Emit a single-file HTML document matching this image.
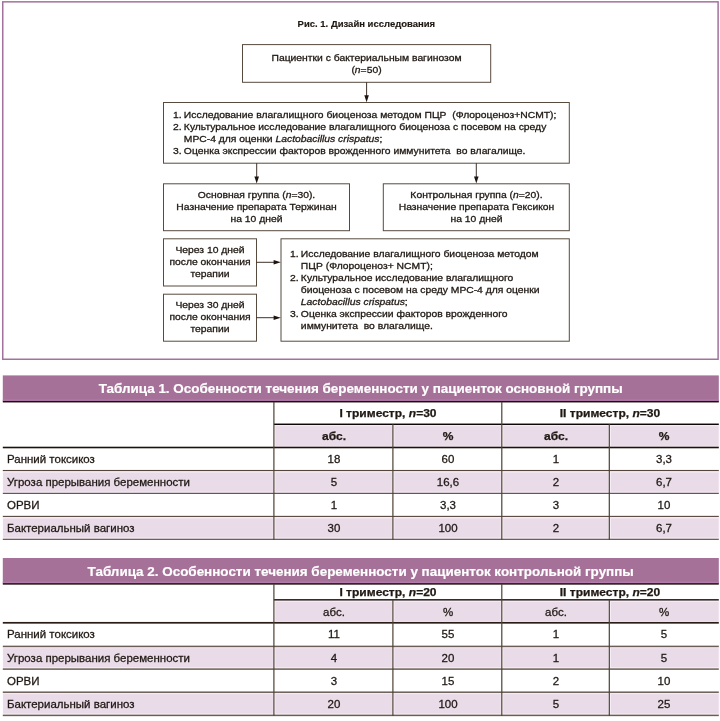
<!DOCTYPE html>
<html lang="ru">
<head>
<meta charset="utf-8">
<title>Рис. 1. Дизайн исследования</title>
<style>
*{margin:0;padding:0;box-sizing:border-box}
html,body{width:720px;height:721px;background:#fff;overflow:hidden}
body{position:relative;font-family:"Liberation Sans",sans-serif;color:#1f1813;-webkit-text-stroke:.3px #1f1813}
.abs{position:absolute}
.fig-title{-webkit-text-stroke:.15px #1f1813;font-weight:bold;font-size:9.5px;line-height:12px;white-space:pre}
.bx{font-size:9.8px;line-height:12px;white-space:pre;transform:scaleX(1.055)}
.nm{display:inline-block;width:10.3px;font-weight:normal}
.bx.l{transform-origin:0 50%}
.bx.c{text-align:center;transform-origin:50% 50%}
i{font-style:italic}
.tt{color:#fff;font-weight:bold;white-space:pre;-webkit-text-stroke:.2px #fff}
.b{font-weight:bold;white-space:pre;-webkit-text-stroke:.25px #1f1813}
.n{white-space:pre;-webkit-text-stroke:.26px #1f1813}
</style>
</head>
<body>
<div class="abs" style="left:0;top:0;width:720px;height:721px;will-change:transform">
<svg class="abs" style="left:0;top:0" width="720" height="370" viewBox="0 0 720 370">
<!-- purple frame -->
<rect x="2.75" y="1.85" width="715.35" height="357.4" fill="none" stroke="#a3729c" stroke-width="1.5"/>
<g fill="none" stroke="#574a3f" stroke-width="1">
<rect x="242.5" y="44.6" width="248.2" height="37.7"/>
<rect x="163.5" y="102.5" width="405.8" height="60.7"/>
<rect x="163.5" y="183.8" width="186" height="46.9"/>
<rect x="383.3" y="183.8" width="186" height="46.9"/>
<rect x="163.5" y="238.8" width="93" height="47.2"/>
<rect x="163.5" y="294.2" width="93" height="47"/>
<rect x="281" y="238.8" width="288.3" height="102.4"/>
</g>
<g stroke="#33271f" stroke-width="0.95" fill="none">
<path d="M366.6 82.3V96"/><path d="M256.7 163.2V177"/><path d="M476.3 163.2V177"/>
<path d="M256.5 262.3H274"/><path d="M256.5 317.7H274"/>
</g>
<g fill="#1d1410">
<path d="M364.3 95.2H368.9L366.6 102.3Z"/>
<path d="M254.4 176.5H259L256.7 183.6Z"/>
<path d="M474 176.5H478.6L476.3 183.6Z"/>
<path d="M273.6 260V264.6L280.8 262.3Z"/>
<path d="M273.6 315.4V320L280.8 317.7Z"/>
</g>
</svg>
<div class="abs fig-title" style="left:297.6px;top:17.9px">Рис. 1. Дизайн исследования</div>
<div class="abs bx c" style="left:241.6px;width:249px;top:51.6px">Пациентки с бактериальным вагинозом
(<i>n</i>=50)</div>
<div class="abs bx l" style="left:172.7px;top:108.5px"><b class="nm">1.</b>Исследование влагалищного биоценоза методом ПЦР  (Флороценоз+NCMT);
<b class="nm">2.</b>Культуральное исследование влагалищного биоценоза с посевом на среду
<b class="nm"></b>МРС-4 для оценки <i>Lactobacillus crispatus</i>;
<b class="nm">3.</b>Оценка экспрессии факторов врожденного иммунитета  во влагалище.</div>
<div class="abs bx c" style="left:163px;width:187px;top:189.3px">Основная группа (<i>n</i>=30).
Назначение препарата Тержинан
на 10 дней</div>
<div class="abs bx c" style="left:383px;width:187px;top:189.3px">Контрольная группа (<i>n</i>=20).
Назначение препарата Гексикон
на 10 дней</div>
<div class="abs bx c" style="left:163px;width:94px;top:244.2px">Через 10 дней
после окончания
терапии</div>
<div class="abs bx c" style="left:163px;width:94px;top:299.2px">Через 30 дней
после окончания
терапии</div>
<div class="abs bx l" style="left:290.4px;top:248.2px"><b class="nm">1.</b>Исследование влагалищного биоценоза методом
<b class="nm"></b>ПЦР (Флороценоз+ NCMT);
<b class="nm">2.</b>Культуральное исследование влагалищного
<b class="nm"></b>биоценоза с посевом на среду МРС-4 для оценки
<b class="nm"></b><i>Lactobacillus crispatus</i>;
<b class="nm">3.</b>Оценка экспрессии факторов врожденного
<b class="nm"></b>иммунитета  во влагалище.</div>

<svg class="abs" style="left:0;top:0" width="720" height="721" viewBox="0 0 720 721">
<rect x="2.8" y="375.4" width="716.0" height="25.9" fill="#a57199"/>
<rect x="2.8" y="399.5" width="716.0" height="1.5" fill="#b47bad"/>
<rect x="2.8" y="400.95" width="716.0" height="1.5" fill="#1c0f0c"/>
<rect x="274.7" y="424.7" width="117.7" height="22.3" fill="#f6ebf5"/>
<rect x="275.5" y="426.3" width="116.2" height="19.4" fill="#e9dbe7"/>
<rect x="393.7" y="424.7" width="107.6" height="22.3" fill="#f6ebf5"/>
<rect x="394.5" y="426.3" width="106.1" height="19.4" fill="#e9dbe7"/>
<rect x="502.6" y="424.7" width="106.2" height="22.3" fill="#f6ebf5"/>
<rect x="503.4" y="426.3" width="104.7" height="19.4" fill="#e9dbe7"/>
<rect x="610.1" y="424.7" width="109.1" height="22.3" fill="#f6ebf5"/>
<rect x="610.9" y="426.3" width="107.6" height="19.4" fill="#e9dbe7"/>
<rect x="2.8" y="471.0" width="270.6" height="21.9" fill="#f6ebf5"/>
<rect x="3.1" y="472.6" width="269.6" height="19.0" fill="#e9dbe7"/>
<rect x="274.7" y="471.0" width="117.7" height="21.9" fill="#f6ebf5"/>
<rect x="275.5" y="472.6" width="116.2" height="19.0" fill="#e9dbe7"/>
<rect x="393.7" y="471.0" width="107.6" height="21.9" fill="#f6ebf5"/>
<rect x="394.5" y="472.6" width="106.1" height="19.0" fill="#e9dbe7"/>
<rect x="502.6" y="471.0" width="106.2" height="21.9" fill="#f6ebf5"/>
<rect x="503.4" y="472.6" width="104.7" height="19.0" fill="#e9dbe7"/>
<rect x="610.1" y="471.0" width="109.1" height="21.9" fill="#f6ebf5"/>
<rect x="610.9" y="472.6" width="107.6" height="19.0" fill="#e9dbe7"/>
<rect x="2.8" y="516.9" width="270.6" height="21.9" fill="#f6ebf5"/>
<rect x="3.1" y="518.5" width="269.6" height="19.0" fill="#e9dbe7"/>
<rect x="274.7" y="516.9" width="117.7" height="21.9" fill="#f6ebf5"/>
<rect x="275.5" y="518.5" width="116.2" height="19.0" fill="#e9dbe7"/>
<rect x="393.7" y="516.9" width="107.6" height="21.9" fill="#f6ebf5"/>
<rect x="394.5" y="518.5" width="106.1" height="19.0" fill="#e9dbe7"/>
<rect x="502.6" y="516.9" width="106.2" height="21.9" fill="#f6ebf5"/>
<rect x="503.4" y="518.5" width="104.7" height="19.0" fill="#e9dbe7"/>
<rect x="610.1" y="516.9" width="109.1" height="21.9" fill="#f6ebf5"/>
<rect x="610.9" y="518.5" width="107.6" height="19.0" fill="#e9dbe7"/>
<rect x="273.9" y="423.55" width="444.9" height="1.45" fill="#0c0706"/>
<rect x="2.8" y="446.70" width="716.0" height="1.6" fill="#1c110d"/>
<rect x="2.8" y="469.95" width="716.0" height="1.1" fill="#54463c"/>
<rect x="2.8" y="492.80" width="716.0" height="1.1" fill="#54463c"/>
<rect x="2.8" y="515.85" width="716.0" height="1.1" fill="#54463c"/>
<rect x="2.8" y="538.75" width="716.0" height="1.1" fill="#54463c"/>
<rect x="273.30" y="401.8" width="1.2" height="138.0" fill="#4e4136"/>
<rect x="392.30" y="424.2" width="1.2" height="115.6" fill="#4e4136"/>
<rect x="501.20" y="401.8" width="1.2" height="138.0" fill="#4e4136"/>
<rect x="608.70" y="424.2" width="1.2" height="115.6" fill="#4e4136"/>
<rect x="2.8" y="558.0" width="716.0" height="25.5" fill="#a57199"/>
<rect x="2.8" y="581.7" width="716.0" height="1.5" fill="#b47bad"/>
<rect x="2.8" y="583.15" width="716.0" height="1.5" fill="#1c0f0c"/>
<rect x="274.7" y="600.2" width="117.7" height="22.0" fill="#f6ebf5"/>
<rect x="275.5" y="601.9" width="116.2" height="19.1" fill="#e9dbe7"/>
<rect x="393.7" y="600.2" width="107.6" height="22.0" fill="#f6ebf5"/>
<rect x="394.5" y="601.9" width="106.1" height="19.1" fill="#e9dbe7"/>
<rect x="502.6" y="600.2" width="106.2" height="22.0" fill="#f6ebf5"/>
<rect x="503.4" y="601.9" width="104.7" height="19.1" fill="#e9dbe7"/>
<rect x="610.1" y="600.2" width="109.1" height="22.0" fill="#f6ebf5"/>
<rect x="610.9" y="601.9" width="107.6" height="19.1" fill="#e9dbe7"/>
<rect x="2.8" y="646.7" width="270.6" height="21.7" fill="#f6ebf5"/>
<rect x="3.1" y="648.3" width="269.6" height="18.8" fill="#e9dbe7"/>
<rect x="274.7" y="646.7" width="117.7" height="21.7" fill="#f6ebf5"/>
<rect x="275.5" y="648.3" width="116.2" height="18.8" fill="#e9dbe7"/>
<rect x="393.7" y="646.7" width="107.6" height="21.7" fill="#f6ebf5"/>
<rect x="394.5" y="648.3" width="106.1" height="18.8" fill="#e9dbe7"/>
<rect x="502.6" y="646.7" width="106.2" height="21.7" fill="#f6ebf5"/>
<rect x="503.4" y="648.3" width="104.7" height="18.8" fill="#e9dbe7"/>
<rect x="610.1" y="646.7" width="109.1" height="21.7" fill="#f6ebf5"/>
<rect x="610.9" y="648.3" width="107.6" height="18.8" fill="#e9dbe7"/>
<rect x="2.8" y="692.5" width="270.6" height="22.2" fill="#f6ebf5"/>
<rect x="3.1" y="694.1" width="269.6" height="19.3" fill="#e9dbe7"/>
<rect x="274.7" y="692.5" width="117.7" height="22.2" fill="#f6ebf5"/>
<rect x="275.5" y="694.1" width="116.2" height="19.3" fill="#e9dbe7"/>
<rect x="393.7" y="692.5" width="107.6" height="22.2" fill="#f6ebf5"/>
<rect x="394.5" y="694.1" width="106.1" height="19.3" fill="#e9dbe7"/>
<rect x="502.6" y="692.5" width="106.2" height="22.2" fill="#f6ebf5"/>
<rect x="503.4" y="694.1" width="104.7" height="19.3" fill="#e9dbe7"/>
<rect x="610.1" y="692.5" width="109.1" height="22.2" fill="#f6ebf5"/>
<rect x="610.9" y="694.1" width="107.6" height="19.3" fill="#e9dbe7"/>
<rect x="273.9" y="599.10" width="444.9" height="1.45" fill="#211713"/>
<rect x="2.8" y="621.95" width="716.0" height="1.7" fill="#2a1d17"/>
<rect x="2.8" y="645.65" width="716.0" height="1.5" fill="#6a5e56"/>
<rect x="2.8" y="668.35" width="716.0" height="1.5" fill="#6a5e56"/>
<rect x="2.8" y="691.45" width="716.0" height="1.5" fill="#6a5e56"/>
<rect x="2.8" y="714.65" width="716.0" height="1.5" fill="#6a5e56"/>
<rect x="273.30" y="584.0" width="1.2" height="131.7" fill="#4e4136"/>
<rect x="392.30" y="599.8" width="1.2" height="116.0" fill="#4e4136"/>
<rect x="501.20" y="584.0" width="1.2" height="131.7" fill="#4e4136"/>
<rect x="608.70" y="599.8" width="1.2" height="116.0" fill="#4e4136"/>
</svg>
<div class="abs tt" style="left:20.7px;width:680px;top:378.64px;text-align:center;font-size:13.45px;line-height:20px;transform:scaleX(1.0);">Таблица 1. Особенности течения беременности у пациенток основной группы</div>
<div class="abs b" style="left:287.8px;width:200px;top:406.13px;text-align:center;font-size:10.6px;line-height:14px;transform:scaleX(1.135);">I триместр, <i>n</i>=30</div>
<div class="abs b" style="left:510.3px;width:200px;top:406.13px;text-align:center;font-size:10.6px;line-height:14px;transform:scaleX(1.135);">II триместр, <i>n</i>=30</div>
<div class="abs b" style="left:233.7px;width:200px;top:428.63px;text-align:center;font-size:10.6px;line-height:14px;transform:scaleX(1.135);">абс.</div>
<div class="abs b" style="left:347.5px;width:200px;top:428.63px;text-align:center;font-size:10.6px;line-height:14px;transform:scaleX(1.135);">%</div>
<div class="abs b" style="left:455.6px;width:200px;top:428.63px;text-align:center;font-size:10.6px;line-height:14px;transform:scaleX(1.135);">абс.</div>
<div class="abs b" style="left:564.0px;width:200px;top:428.63px;text-align:center;font-size:10.6px;line-height:14px;transform:scaleX(1.135);">%</div>
<div class="abs n" style="left:7.4px;top:452.33px;font-size:10.6px;line-height:14px;transform:scaleX(1.084);transform-origin:0 50%">Ранний токсикоз</div>
<div class="abs n" style="left:233.7px;width:200px;top:452.33px;text-align:center;font-size:10.6px;line-height:14px;transform:scaleX(1.084);">18</div>
<div class="abs n" style="left:347.5px;width:200px;top:452.33px;text-align:center;font-size:10.6px;line-height:14px;transform:scaleX(1.084);">60</div>
<div class="abs n" style="left:455.6px;width:200px;top:452.33px;text-align:center;font-size:10.6px;line-height:14px;transform:scaleX(1.084);">1</div>
<div class="abs n" style="left:564.0px;width:200px;top:452.33px;text-align:center;font-size:10.6px;line-height:14px;transform:scaleX(1.084);">3,3</div>
<div class="abs n" style="left:7.4px;top:475.33px;font-size:10.6px;line-height:14px;transform:scaleX(1.084);transform-origin:0 50%">Угроза прерывания беременности</div>
<div class="abs n" style="left:233.7px;width:200px;top:475.33px;text-align:center;font-size:10.6px;line-height:14px;transform:scaleX(1.084);">5</div>
<div class="abs n" style="left:347.5px;width:200px;top:475.33px;text-align:center;font-size:10.6px;line-height:14px;transform:scaleX(1.084);">16,6</div>
<div class="abs n" style="left:455.6px;width:200px;top:475.33px;text-align:center;font-size:10.6px;line-height:14px;transform:scaleX(1.084);">2</div>
<div class="abs n" style="left:564.0px;width:200px;top:475.33px;text-align:center;font-size:10.6px;line-height:14px;transform:scaleX(1.084);">6,7</div>
<div class="abs n" style="left:7.4px;top:498.03px;font-size:10.6px;line-height:14px;transform:scaleX(1.084);transform-origin:0 50%">ОРВИ</div>
<div class="abs n" style="left:233.7px;width:200px;top:498.03px;text-align:center;font-size:10.6px;line-height:14px;transform:scaleX(1.084);">1</div>
<div class="abs n" style="left:347.5px;width:200px;top:498.03px;text-align:center;font-size:10.6px;line-height:14px;transform:scaleX(1.084);">3,3</div>
<div class="abs n" style="left:455.6px;width:200px;top:498.03px;text-align:center;font-size:10.6px;line-height:14px;transform:scaleX(1.084);">3</div>
<div class="abs n" style="left:564.0px;width:200px;top:498.03px;text-align:center;font-size:10.6px;line-height:14px;transform:scaleX(1.084);">10</div>
<div class="abs n" style="left:7.4px;top:521.23px;font-size:10.6px;line-height:14px;transform:scaleX(1.084);transform-origin:0 50%">Бактериальный вагиноз</div>
<div class="abs n" style="left:233.7px;width:200px;top:521.23px;text-align:center;font-size:10.6px;line-height:14px;transform:scaleX(1.084);">30</div>
<div class="abs n" style="left:347.5px;width:200px;top:521.23px;text-align:center;font-size:10.6px;line-height:14px;transform:scaleX(1.084);">100</div>
<div class="abs n" style="left:455.6px;width:200px;top:521.23px;text-align:center;font-size:10.6px;line-height:14px;transform:scaleX(1.084);">2</div>
<div class="abs n" style="left:564.0px;width:200px;top:521.23px;text-align:center;font-size:10.6px;line-height:14px;transform:scaleX(1.084);">6,7</div>
<div class="abs tt" style="left:20.7px;width:680px;top:561.69px;text-align:center;font-size:13.45px;line-height:20px;transform:scaleX(1.0);">Таблица 2. Особенности течения беременности у пациенток контрольной группы</div>
<div class="abs b" style="left:287.8px;width:200px;top:585.13px;text-align:center;font-size:10.6px;line-height:14px;transform:scaleX(1.135);">I триместр, <i>n</i>=20</div>
<div class="abs b" style="left:510.3px;width:200px;top:585.13px;text-align:center;font-size:10.6px;line-height:14px;transform:scaleX(1.135);">II триместр, <i>n</i>=20</div>
<div class="abs n" style="left:233.7px;width:200px;top:604.63px;text-align:center;font-size:10.6px;line-height:14px;transform:scaleX(1.084);">абс.</div>
<div class="abs n" style="left:347.5px;width:200px;top:604.63px;text-align:center;font-size:10.6px;line-height:14px;transform:scaleX(1.084);">%</div>
<div class="abs n" style="left:455.6px;width:200px;top:604.63px;text-align:center;font-size:10.6px;line-height:14px;transform:scaleX(1.084);">абс.</div>
<div class="abs n" style="left:564.0px;width:200px;top:604.63px;text-align:center;font-size:10.6px;line-height:14px;transform:scaleX(1.084);">%</div>
<div class="abs n" style="left:7.4px;top:627.43px;font-size:10.6px;line-height:14px;transform:scaleX(1.084);transform-origin:0 50%">Ранний токсикоз</div>
<div class="abs n" style="left:233.7px;width:200px;top:627.43px;text-align:center;font-size:10.6px;line-height:14px;transform:scaleX(1.084);">11</div>
<div class="abs n" style="left:347.5px;width:200px;top:627.43px;text-align:center;font-size:10.6px;line-height:14px;transform:scaleX(1.084);">55</div>
<div class="abs n" style="left:455.6px;width:200px;top:627.43px;text-align:center;font-size:10.6px;line-height:14px;transform:scaleX(1.084);">1</div>
<div class="abs n" style="left:564.0px;width:200px;top:627.43px;text-align:center;font-size:10.6px;line-height:14px;transform:scaleX(1.084);">5</div>
<div class="abs n" style="left:7.4px;top:651.03px;font-size:10.6px;line-height:14px;transform:scaleX(1.084);transform-origin:0 50%">Угроза прерывания беременности</div>
<div class="abs n" style="left:233.7px;width:200px;top:651.03px;text-align:center;font-size:10.6px;line-height:14px;transform:scaleX(1.084);">4</div>
<div class="abs n" style="left:347.5px;width:200px;top:651.03px;text-align:center;font-size:10.6px;line-height:14px;transform:scaleX(1.084);">20</div>
<div class="abs n" style="left:455.6px;width:200px;top:651.03px;text-align:center;font-size:10.6px;line-height:14px;transform:scaleX(1.084);">1</div>
<div class="abs n" style="left:564.0px;width:200px;top:651.03px;text-align:center;font-size:10.6px;line-height:14px;transform:scaleX(1.084);">5</div>
<div class="abs n" style="left:7.4px;top:673.73px;font-size:10.6px;line-height:14px;transform:scaleX(1.084);transform-origin:0 50%">ОРВИ</div>
<div class="abs n" style="left:233.7px;width:200px;top:673.73px;text-align:center;font-size:10.6px;line-height:14px;transform:scaleX(1.084);">3</div>
<div class="abs n" style="left:347.5px;width:200px;top:673.73px;text-align:center;font-size:10.6px;line-height:14px;transform:scaleX(1.084);">15</div>
<div class="abs n" style="left:455.6px;width:200px;top:673.73px;text-align:center;font-size:10.6px;line-height:14px;transform:scaleX(1.084);">2</div>
<div class="abs n" style="left:564.0px;width:200px;top:673.73px;text-align:center;font-size:10.6px;line-height:14px;transform:scaleX(1.084);">10</div>
<div class="abs n" style="left:7.4px;top:696.83px;font-size:10.6px;line-height:14px;transform:scaleX(1.084);transform-origin:0 50%">Бактериальный вагиноз</div>
<div class="abs n" style="left:233.7px;width:200px;top:696.83px;text-align:center;font-size:10.6px;line-height:14px;transform:scaleX(1.084);">20</div>
<div class="abs n" style="left:347.5px;width:200px;top:696.83px;text-align:center;font-size:10.6px;line-height:14px;transform:scaleX(1.084);">100</div>
<div class="abs n" style="left:455.6px;width:200px;top:696.83px;text-align:center;font-size:10.6px;line-height:14px;transform:scaleX(1.084);">5</div>
<div class="abs n" style="left:564.0px;width:200px;top:696.83px;text-align:center;font-size:10.6px;line-height:14px;transform:scaleX(1.084);">25</div>
</div>
</body>
</html>
